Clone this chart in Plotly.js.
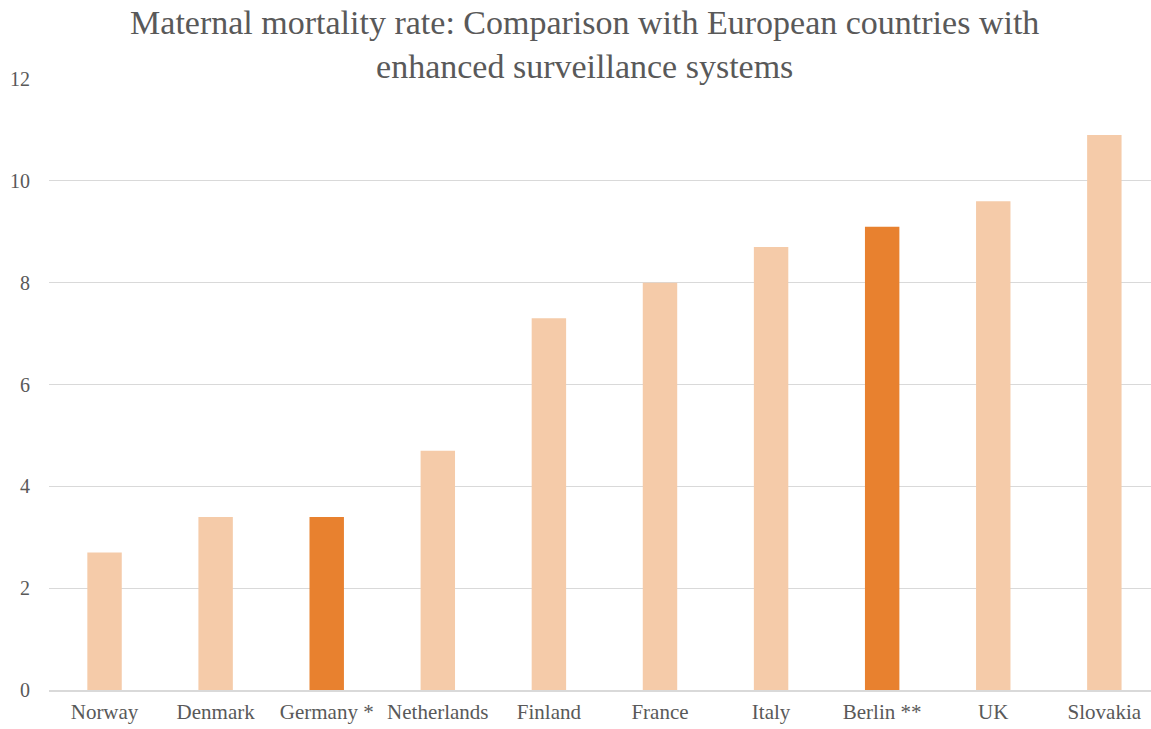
<!DOCTYPE html>
<html><head><meta charset="utf-8">
<script src="https://cdn.plot.ly/plotly-3.0.1.min.js"></script>
<style>html,body{margin:0;padding:0;background:#fff;}#chart{width:1151px;height:729px;}</style>
</head><body><div id="chart"></div>
<script>
const categories = ["Norway","Denmark","Germany *","Netherlands","Finland","France","Italy","Berlin **","UK","Slovakia"];
const values = [2.7,3.4,3.4,4.7,7.3,8.0,8.7,9.1,9.6,10.9];
const highlighted = ["Germany *","Berlin **"];
const lightColor = "#F5CBA9";
const darkColor = "#E8812F";
const colors = categories.map(c => highlighted.includes(c) ? darkColor : lightColor);

const trace = {
  type: "bar",
  x: categories,
  y: values,
  marker: {color: colors, line: {width: 0}},
  width: 0.31,
  hoverinfo: "x+y"
};
const font = "'Liberation Serif', 'Times New Roman', serif";
const layout = {
  width: 1151, height: 729,
  margin: {l: 49, r: 0, t: 79, b: 39},
  paper_bgcolor: "#fff", plot_bgcolor: "#fff",
  font: {family: font, color: "#595959", size: 20},
  title: {
    text: "Maternal mortality rate: Comparison with European countries with<br>enhanced surveillance systems",
    font: {family: font, size: 34, color: "#595959"},
    x: 0.508, xref: "container", xanchor: "center",
    y: 0.953, yref: "container", yanchor: "top"
  },
  xaxis: {
    type: "category",
    range: [-0.5, 9.42],
    showgrid: false,
    showline: true, linecolor: "#d9d9d9", linewidth: 1.5,
    ticks: "", ticklabelstandoff: 2,
    tickfont: {family: font, size: 21, color: "#595959"},
    fixedrange: true
  },
  yaxis: {
    range: [0, 12],
    tickvals: [0,2,4,6,8,10,12],
    showgrid: true, gridcolor: "#d9d9d9", gridwidth: 1,
    zeroline: false, showline: false,
    ticks: "", ticklabelstandoff: 18,
    tickfont: {family: font, size: 20, color: "#595959"},
    fixedrange: true
  },
  showlegend: false,
  bargap: 0.69
};
Plotly.newPlot("chart", [trace], layout, {displayModeBar: false, staticPlot: true});
</script>
</body></html>
